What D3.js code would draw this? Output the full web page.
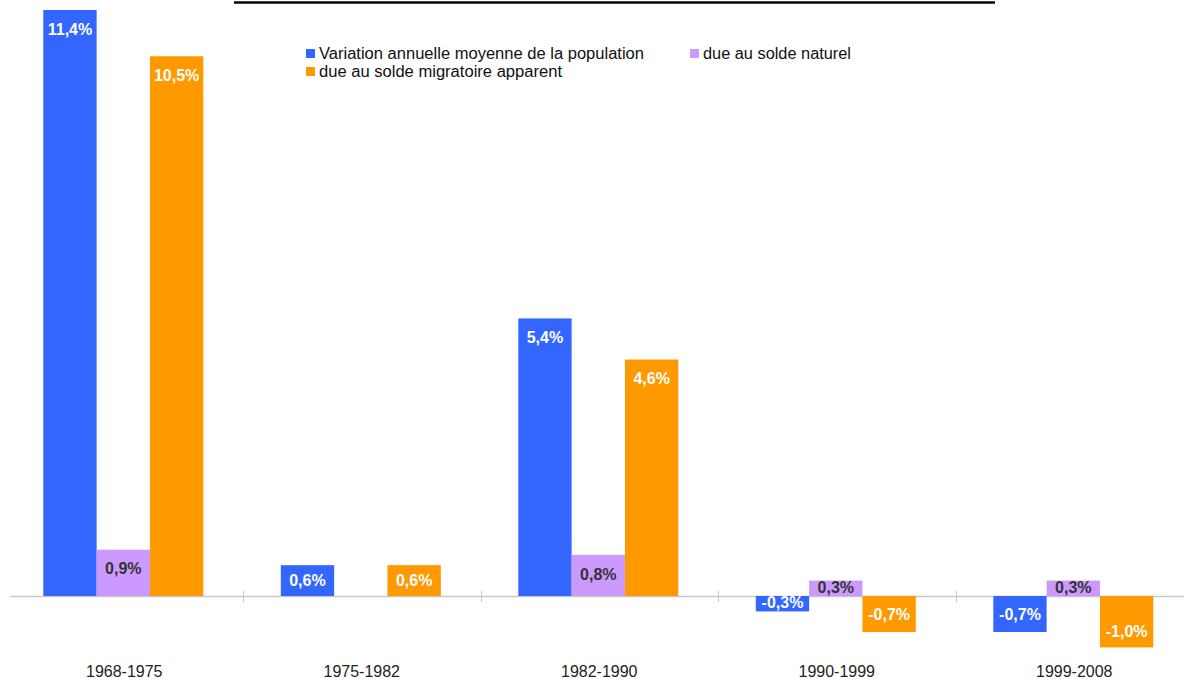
<!DOCTYPE html>
<html><head><meta charset="utf-8">
<script src="https://cdn.jsdelivr.net/npm/d3@7"></script>
<style>body{margin:0;background:#fff;}svg{display:block;font-family:Arial,"Liberation Sans",sans-serif;}</style>
</head><body>
<svg id="c" width="1184" height="679"></svg>
<script>
const categories = ["1968-1975","1975-1982","1982-1990","1990-1999","1999-2008"];
const seriesNames = ["Variation annuelle moyenne de la population","due au solde naturel","due au solde migratoire apparent"];
const totalVar = [11.4, 0.6, 5.4, -0.3, -0.7];
const naturel = [0.9, 0.0, 0.8, 0.3, 0.3];
const migratoire = [10.5, 0.6, 4.6, -0.7, -1.0];
const colors = ["#3366ff","#cc99ff","#ff9900"];
const labelColors = ["#ffffff","#333333","#ffffff"];
const series = [totalVar, naturel, migratoire];

const svg = d3.select("#c");
const x0 = d3.scaleBand().domain(categories).range([5.5, 1193]).paddingInner(0).paddingOuter(0);
const x1 = d3.scaleBand().domain([0,1,2]).range([37.8, 197.8]);
const y = d3.scaleLinear().domain([0, 11.4]).range([596, 10]);

// title underline (title text cut off above)
svg.append("line").attr("x1",234).attr("x2",995).attr("y1",2.5).attr("y2",2.5).attr("stroke","#000").attr("stroke-width",2.5);

// axis
svg.append("line").attr("x1",10).attr("x2",1184).attr("y1",596.5).attr("y2",596.5).attr("stroke","#c8c8c8").attr("stroke-width",1.5);
categories.slice(1).forEach(c=>{
  const xx = Math.round(x0(c))+0.5;
  svg.append("line").attr("x1",xx).attr("x2",xx).attr("y1",591).attr("y2",602).attr("stroke","#c8c8c8").attr("stroke-width",1);
});

const fmt = v => (v<0?"-":"") + Math.abs(v).toFixed(1).replace(".",",") + "%";

categories.forEach((c,i)=>{
  const g = svg.append("g").attr("transform",`translate(${x0(c)},0)`);
  series.forEach((s,k)=>{
    const v = s[i];
    if (v === 0) return;
    const yt = y(Math.max(0,v)), yb = y(Math.min(0,v));
    const h = yb-yt;
    g.append("rect").attr("x",x1(k)).attr("y",yt).attr("width",x1.bandwidth()).attr("height",h).attr("fill",colors[k]);
    let ly;
    if (h > 40) ly = v>0 ? yt+19 : yb-16; else ly = (yt+yb)/2 + (h<20 ? -1:0);
    g.append("text").attr("x",x1(k)+x1.bandwidth()/2).attr("y",ly).attr("dy","0.36em")
      .attr("text-anchor","middle").attr("font-size",16).attr("font-weight","bold")
      .attr("fill",labelColors[k]).text(fmt(v));
  });
  svg.append("text").attr("x",x0(c)+x0.bandwidth()/2).attr("y",677).attr("text-anchor","middle")
    .attr("font-size",16).attr("fill","#222").text(c);
});

// legend
const leg = [{k:0,x:306,y:49},{k:1,x:690,y:49},{k:2,x:306,y:67}];
leg.forEach(d=>{
  svg.append("rect").attr("x",d.x).attr("y",d.y).attr("width",9).attr("height",9).attr("fill",colors[d.k]);
  svg.append("text").attr("x",d.x+13).attr("y",d.y+10).attr("font-size",16).attr("fill","#111")
    .attr("textLength", d.k===0 ? 325 : (d.k===1 ? 148 : 243)).attr("lengthAdjust","spacingAndGlyphs")
    .text(seriesNames[d.k]);
});
</script>
</body></html>
